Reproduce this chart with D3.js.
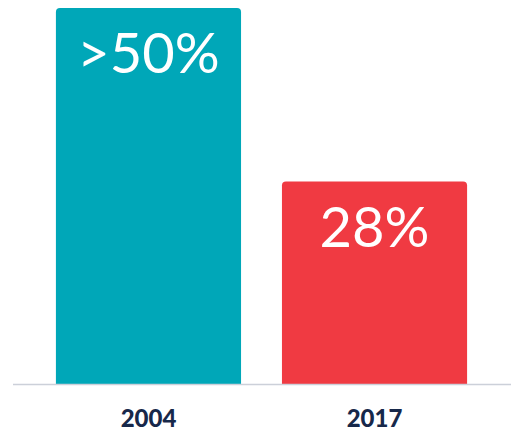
<!DOCTYPE html>
<html>
<head>
<meta charset="utf-8">
<script src="https://cdn.jsdelivr.net/npm/d3@7"></script>
<style>
  body { margin: 0; background: #fff; }
</style>
</head>
<body>
<div id="chart"></div>
<script>
// data
const years = ["2004", "2017"];
const shares = [52, 28];           // bar heights (2004 drawn as just over 50)
const valueLabels = [">50%", "28%"];
const barColors = ["#00a7b8", "#f03a42"];

const width = 511, height = 431;
const baseY = 384;

const svg = d3.select("#chart").append("svg")
    .attr("width", width)
    .attr("height", height);

const x = d3.scaleBand()
    .domain(years)
    .range([15, 508])
    .paddingInner(0.181)
    .paddingOuter(0.181);

const y = d3.scaleLinear()
    .domain([0, 52])
    .range([baseY, 8]);

// bar with rounded top corners only
function barPath(x0, y0, w, h, r) {
    return `M${x0},${y0 + h}V${y0 + r}Q${x0},${y0} ${x0 + r},${y0}` +
           `H${x0 + w - r}Q${x0 + w},${y0} ${x0 + w},${y0 + r}V${y0 + h}Z`;
}

const data = years.map((yr, i) => ({ year: yr, value: shares[i], label: valueLabels[i], color: barColors[i] }));

svg.selectAll("path.bar")
    .data(data)
    .enter()
    .append("path")
    .attr("class", "bar")
    .attr("d", d => barPath(x(d.year), y(d.value), x.bandwidth(), baseY - y(d.value), 4))
    .style("fill", d => d.color);

// baseline
svg.append("line")
    .attr("x1", 13).attr("x2", width)
    .attr("y1", baseY + 0.5).attr("y2", baseY + 0.5)
    .style("stroke", "#ccd0d9")
    .style("stroke-width", 1.5);

// value labels inside bars
svg.selectAll("text.value")
    .data(data)
    .enter()
    .append("text")
    .attr("class", "value")
    .attr("x", d => x(d.year) + x.bandwidth() / 2)
    .attr("y", d => y(d.value) + 65)
    .attr("text-anchor", "middle")
    .style("font-family", "Lato, 'Open Sans', sans-serif")
    .style("font-weight", 400)
    .style("font-size", "56px")
    .style("fill", "#fff")
    .text(d => d.label);

// year labels
svg.selectAll("text.year")
    .data(data)
    .enter()
    .append("text")
    .attr("class", "year")
    .attr("x", d => x(d.year) + x.bandwidth() / 2)
    .attr("y", 427)
    .attr("text-anchor", "middle")
    .style("font-family", "Lato, 'Open Sans', sans-serif")
    .style("font-weight", 900)
    .style("font-size", "24px")
    .style("fill", "#17284a")
    .text(d => d.year);
</script>
</body>
</html>
